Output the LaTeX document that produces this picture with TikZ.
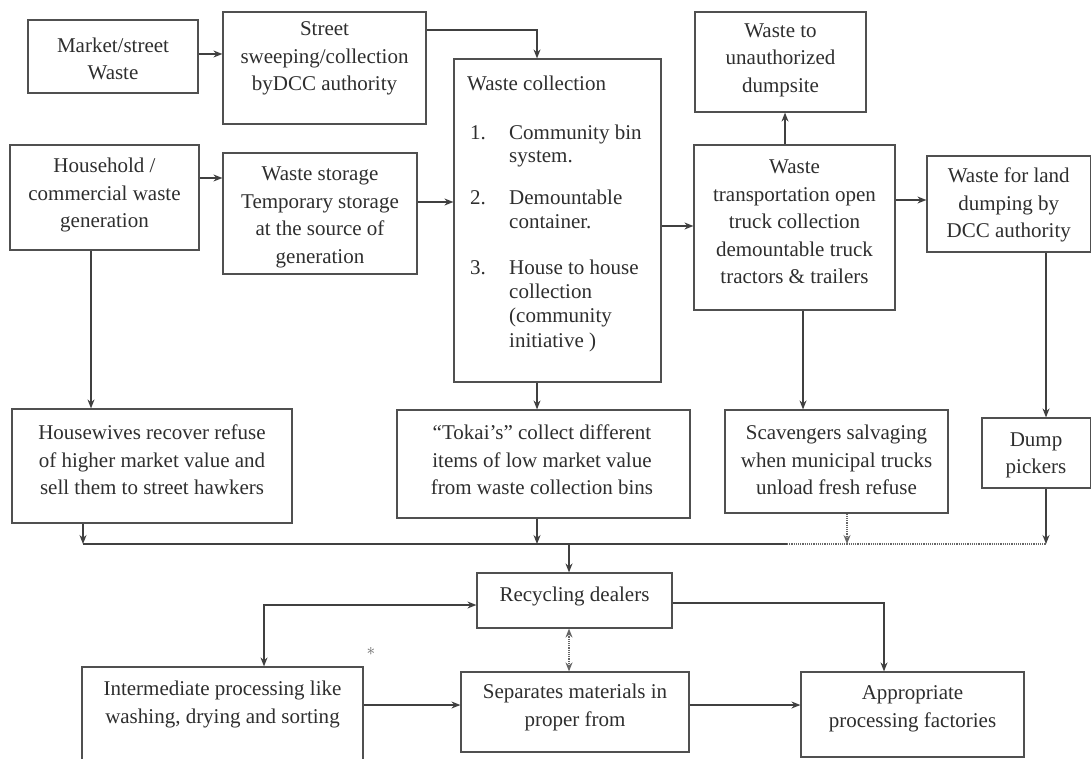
\documentclass[tikz,border=0pt]{standalone}
\usepackage{fontspec}
\setmainfont{Liberation Serif}
\usetikzlibrary{arrows.meta}
\definecolor{lncol}{HTML}{404040}
\definecolor{boxcol}{HTML}{505050}
\definecolor{txtcol}{HTML}{2E2E2E}
\begin{document}
\begin{tikzpicture}[x=1pt,y=-1pt,
  box/.style={draw=boxcol, line width=1.2pt, fill=white, inner sep=0pt, rectangle},
  txt/.style={align=center, text=txtcol, inner sep=0pt, font=\fontsize{21}{27.5}\selectfont},
  ltxt/.style={anchor=west, text=txtcol, inner sep=0pt, text height=14pt, text depth=4.6pt, font=\fontsize{21}{27.5}\selectfont},
  ln/.style={draw=lncol, line width=1.2pt},
  arr/.style={ln, -{Stealth[length=9pt,width=7pt]}},
  arrtwo/.style={ln, {Stealth[length=9pt,width=7pt]}-{Stealth[length=9pt,width=7pt]}},
  dots/.style={densely dotted, draw=lncol!80}
]
\clip (0,0) rectangle (1091,759);
\fill[white] (0,0) rectangle (1091,759);

% boxes
\node[box, minimum width=170pt, minimum height=73pt] (market) at (113,56.5) {};
\node[box, minimum width=203pt, minimum height=112pt] (street) at (324.5,68) {};
\node[box, minimum width=207pt, minimum height=323pt] (wc) at (557.5,220.5) {};
\node[box, minimum width=171pt, minimum height=100pt] (unauth) at (780.5,62) {};
\node[box, minimum width=189pt, minimum height=105pt] (household) at (104.5,197.5) {};
\node[box, minimum width=194pt, minimum height=121pt] (storage) at (320,213.5) {};
\node[box, minimum width=201pt, minimum height=165pt] (transport) at (794.5,227.5) {};
\node[box, minimum width=163.5pt, minimum height=96pt] (land) at (1008.75,204) {};
\node[box, minimum width=280pt, minimum height=114pt] (housewives) at (152,466) {};
\node[box, minimum width=293pt, minimum height=108pt] (tokai) at (543.5,464) {};
\node[box, minimum width=223pt, minimum height=103pt] (scav) at (836.5,461.5) {};
\node[box, minimum width=108.5pt, minimum height=70pt] (dump) at (1036.25,453) {};
\node[box, minimum width=195pt, minimum height=55pt] (recycling) at (574.5,600.5) {};
\node[box, minimum width=281pt, minimum height=123pt] (intermediate) at (222.5,728.5) {};
\node[box, minimum width=228pt, minimum height=80pt] (separates) at (575,712) {};
\node[box, minimum width=223pt, minimum height=85pt] (appropriate) at (912.5,714.5) {};

% texts
\node[txt] (market-t) at (113,59) {Market/street\\Waste};
\node[txt] (street-t) at (324.5,58.5) {Street\\sweeping/collection\\byDCC authority};
\node[txt] (unauth-t) at (780.5,60) {Waste to\\unauthorized\\dumpsite};
\node[txt] (household-t) at (104.5,195) {Household /\\commercial waste\\generation};
\node[txt] (storage-t) at (320,217.5) {Waste storage\\Temporary storage\\at the source of\\generation};
\node[txt] (transport-t) at (794.5,222) {Waste\\transportation open\\truck collection\\demountable truck\\tractors \& trailers};
\node[txt] (land-t) at (1008.75,205) {Waste for land\\dumping by\\DCC authority};
\node[txt] (housewives-t) at (152,460) {Housewives recover refuse\\of higher market value and\\sell them to street hawkers};
\node[txt] (tokai-t) at (542,460) {“Tokai’s” collect different\\items of low market value\\from waste collection bins};
\node[txt] (scav-t) at (836.5,460) {Scavengers salvaging\\when municipal trucks\\unload fresh refuse};
\node[txt] (dump-t) at (1036,455.5) {Dump\\pickers};
\node[txt] (recycling-t) at (574.5,596) {Recycling dealers};
\node[txt] (intermediate-t) at (222.5,704.5) {Intermediate processing like\\washing, drying and sorting};
\node[txt] (separates-t) at (575,707.5) {Separates materials in\\proper from};
\node[txt] (appropriate-t) at (912.5,709) {Appropriate\\processing factories};

% waste collection list
\node[ltxt] (wc-title) at (467,86) {Waste collection};
\node[ltxt] (wc-n1) at (470,135) {1.};
\node[ltxt] (wc-a1) at (509,135) {Community bin};
\node[ltxt] (wc-b1) at (509,158) {system.};
\node[ltxt] (wc-n2) at (470,200) {2.};
\node[ltxt] (wc-a2) at (509,200) {Demountable};
\node[ltxt] (wc-b2) at (509,224) {container.};
\node[ltxt] (wc-n3) at (470,270) {3.};
\node[ltxt] (wc-a3) at (509,270) {House to house};
\node[ltxt] (wc-b3) at (509,294) {collection};
\node[ltxt] (wc-c3) at (509,318) {(community};
\node[ltxt] (wc-d3) at (509,343) {initiative )};

\node[text=lncol!80, inner sep=0pt, font=\fontsize{16}{16}\selectfont] (speck) at (371,651) {$\ast$};

% connectors (upper part)
\draw[arr] (market.east |- 0,54) -- (street.west |- 0,54);
\draw[arr] (street.east |- 0,30) -| (wc.north -| 537,0);
\draw[arr] (household.east |- 0,178) -- (storage.west |- 0,178);
\draw[arr] (storage.east |- 0,202) -- (wc.west |- 0,202);
\draw[arr] (wc.east |- 0,226) -- (transport.west |- 0,226);
\draw[arr] (transport.north -| 785,0) -- (unauth.south -| 785,0);
\draw[arr] (transport.east |- 0,200) -- (land.west |- 0,200);
\draw[arr] (household.south -| 91,0) -- (housewives.north -| 91,0);
\draw[arr] (wc.south -| 537,0) -- (tokai.north -| 537,0);
\draw[arr] (transport.south -| 803,0) -- (scav.north -| 803,0);
\draw[arr] (land.south -| 1046,0) -- (dump.north -| 1046,0);

% collector bus
\coordinate (busL) at (83,544);
\coordinate (busM) at (787,544);
\coordinate (busR) at (1046,544);
\coordinate (busC) at (569,544);
\draw[ln] (busL) -- (busM);
\draw[ln, dots] (busM) -- (busR);
\draw[arr] (housewives.south -| busL) -- (busL);
\draw[arr] (tokai.south -| 537,0) -- (busL -| 537,0);
\draw[arr, dots] (scav.south -| 847,0) -- (busL -| 847,0);
\draw[arr] (dump.south -| busR) -- (busR);
\draw[arr] (busC) -- (recycling.north -| busC);

% lower part
\draw[arrtwo] (recycling.west |- 0,605) -| (intermediate.north -| 264,0);
\draw[arr] (recycling.east |- 0,603) -| (appropriate.north -| 884,0);
\draw[arrtwo, dots] (recycling.south -| 569,0) -- (separates.north -| 569,0);
\draw[arr] (intermediate.east |- 0,705) -- (separates.west |- 0,705);
\draw[arr] (separates.east |- 0,705) -- (appropriate.west |- 0,705);
\end{tikzpicture}
\end{document}
